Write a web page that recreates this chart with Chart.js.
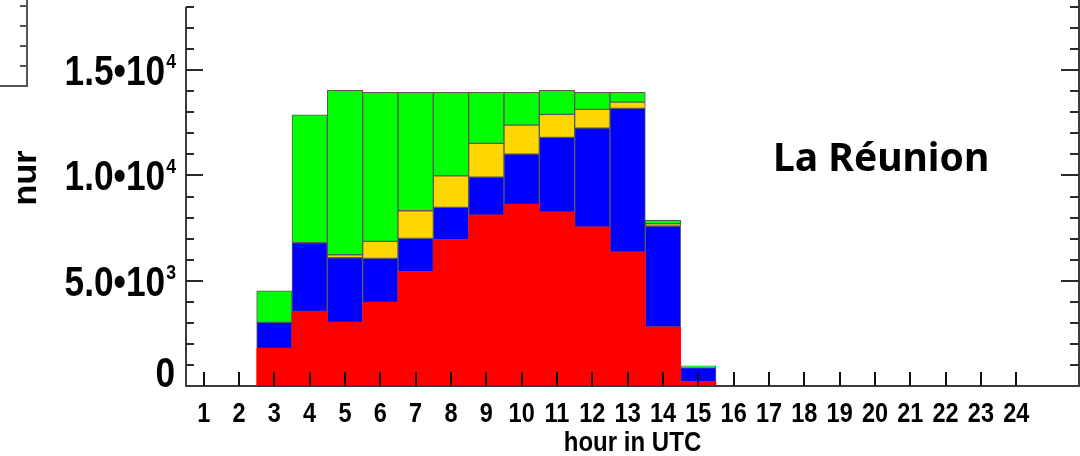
<!DOCTYPE html>
<html lang="fr">
  <head>
    <meta charset="UTF-8" />
    <title>La Réunion</title>
    <script src="https://cdn.jsdelivr.net/npm/chart.js@4.4.0/dist/chart.umd.min.js"></script>
    <style>
      html,
      body {
        margin: 0;
        padding: 0;
        background: #fff;
      }
      #wrap {
        width: 1080px;
        height: 456px;
      }
    </style>
  </head>
  <body>
    <div id="wrap"><canvas id="chart-area" width="1080" height="456"></canvas></div>

    <script>
      // hours 1..24, stacked counts per hour (bottom to top)
      const hours = [1, 2, 3, 4, 5, 6, 7, 8, 9, 10, 11, 12, 13, 14, 15, 16, 17, 18, 19, 20, 21, 22, 23, 24];
      const red = [0, 0, 1790, 3546, 3024, 3973, 5426, 6945, 8117, 8625, 8260, 7548, 6361, 2801, 200, 0, 0, 0, 0, 0, 0, 0, 0, 0];
      const blue = [0, 0, 1234, 3257, 3067, 2089, 1585, 1538, 1804, 2388, 3546, 4699, 6821, 4794, 680, 0, 0, 0, 0, 0, 0, 0, 0, 0];
      const yellow = [0, 0, 0, 0, 142, 807, 1311, 1500, 1600, 1377, 1092, 888, 299, 110, 20, 0, 0, 0, 0, 0, 0, 0, 0, 0];
      const green = [0, 0, 1500, 6076, 7804, 7073, 5620, 3959, 2421, 1552, 1139, 807, 461, 162, 60, 0, 0, 0, 0, 0, 0, 0, 0, 0];

      const yTickValues = [0, 5000, 10000, 15000];
      const yTickMain = ["0", "5.0•10", "1.0•10", "1.5•10"];
      const yTickExp = ["", "3", "4", "4"];
      const yMax = 18000;
      const yMinorStep = 1000;
      const yMajorStep = 5000;

      const xTitle = "hour in UTC";
      const yTitle = "nur";
      const region = "La Réunion";

      const AXIS_FONT = "'Liberation Sans', Arial, sans-serif";

      // draws text squeezed horizontally, like the original plot fonts
      function squeezed(ctx, text, px, py, size, align, sx) {
        ctx.save();
        ctx.translate(px, py);
        ctx.scale(sx, 1);
        ctx.font = "bold " + size + "px " + AXIS_FONT;
        ctx.textAlign = align;
        ctx.textBaseline = "alphabetic";
        ctx.fillText(text, 0, 0);
        ctx.restore();
      }

      const frame = {
        id: "frame",
        afterDraw(chart) {
          const { ctx, chartArea: a } = chart;
          const x = chart.scales.x;
          const y = chart.scales.y;
          ctx.save();

          // piece of the neighbouring panel, top left
          ctx.strokeStyle = "#555";
          ctx.lineWidth = 2;
          ctx.beginPath();
          ctx.moveTo(27, 0);
          ctx.lineTo(27, 86);
          ctx.lineTo(0, 86);
          [6, 26, 46, 66].forEach((t) => {
            ctx.moveTo(27, t);
            ctx.lineTo(20, t);
          });
          ctx.stroke();

          // axes
          ctx.strokeStyle = "#3c3c3c";
          ctx.lineWidth = 2;
          ctx.beginPath();
          ctx.moveTo(a.left, a.top);
          ctx.lineTo(a.left, a.bottom);
          ctx.lineTo(a.right, a.bottom);
          ctx.lineTo(a.right, 0);
          ctx.stroke();

          // y ticks, left and right, pointing inwards
          ctx.strokeStyle = "#2a2a2a";
          ctx.beginPath();
          for (let v = yMinorStep; v <= yMax; v += yMinorStep) {
            const py = Math.round(y.getPixelForValue(v));
            const len = v % yMajorStep === 0 ? 17 : 8;
            ctx.moveTo(a.left, py);
            ctx.lineTo(a.left + len, py);
            ctx.moveTo(a.right, py);
            ctx.lineTo(a.right - len - 1, py);
          }
          ctx.stroke();

          // x ticks
          ctx.strokeStyle = "#111";
          ctx.beginPath();
          hours.forEach((h) => {
            const px = Math.round(x.getPixelForValue(h));
            ctx.moveTo(px, a.bottom);
            ctx.lineTo(px, a.bottom - 14);
          });
          ctx.stroke();

          ctx.fillStyle = "#000";

          // y labels with superscript exponents
          const sx = 0.84;
          yTickValues.forEach((v, i) => {
            const py = y.getPixelForValue(v);
            const base = Math.min(py + 15, a.bottom + 1);
            const right = a.left - 10;
            ctx.font = "bold 21px " + AXIS_FONT;
            const ew = yTickExp[i] ? ctx.measureText(yTickExp[i]).width * sx : 0;
            if (yTickExp[i]) squeezed(ctx, yTickExp[i], right, base - 17, 21, "right", sx);
            squeezed(ctx, yTickMain[i], right - ew - 1, base, 42, "right", sx);
          });

          // x labels
          hours.forEach((h) => {
            squeezed(ctx, String(h), x.getPixelForValue(h), a.bottom + 36, 28, "center", sx);
          });

          // axis titles
          squeezed(ctx, xTitle, (a.left + a.right) / 2, 451, 27, "center", 0.89);

          ctx.save();
          ctx.translate(36, 178);
          ctx.rotate(-Math.PI / 2);
          ctx.font = "bold 34px " + AXIS_FONT;
          ctx.textAlign = "center";
          ctx.textBaseline = "alphabetic";
          ctx.fillText(yTitle, 0, 0);
          ctx.restore();

          // region name
          ctx.font = "bold 39px 'Noto Sans', 'Open Sans', sans-serif";
          ctx.textAlign = "left";
          ctx.textBaseline = "alphabetic";
          ctx.fillText(region, 773, 171);

          ctx.restore();
        },
      };

      function series(values, color, border) {
        return {
          data: hours.map((h, i) => ({ x: h, y: values[i] })),
          backgroundColor: color,
          borderColor: "#5a5a5a",
          borderWidth: border ? 1 : 0,
          borderSkipped: false,
          barPercentage: 1,
          categoryPercentage: 1,
        };
      }

      const ctx = document.getElementById("chart-area").getContext("2d");
      const chart = new Chart(ctx, {
        type: "bar",
        data: {
          datasets: [
            series(red, "#ff0000", false),
            series(blue, "#0000ff", true),
            series(yellow, "#ffd700", true),
            series(green, "#00ff00", true),
          ],
        },
        options: {
          responsive: false,
          animation: false,
          layout: {
            padding: { left: 186, right: 1, top: 7, bottom: 70 },
          },
          plugins: {
            legend: { display: false },
            tooltip: { enabled: false },
          },
          scales: {
            x: {
              type: "linear",
              display: false,
              stacked: true,
              offset: false,
              min: 0.5,
              max: 25.775,
            },
            y: {
              display: false,
              stacked: true,
              min: 0,
              max: yMax,
            },
          },
        },
        plugins: [frame],
      });
    </script>
  </body>
</html>
